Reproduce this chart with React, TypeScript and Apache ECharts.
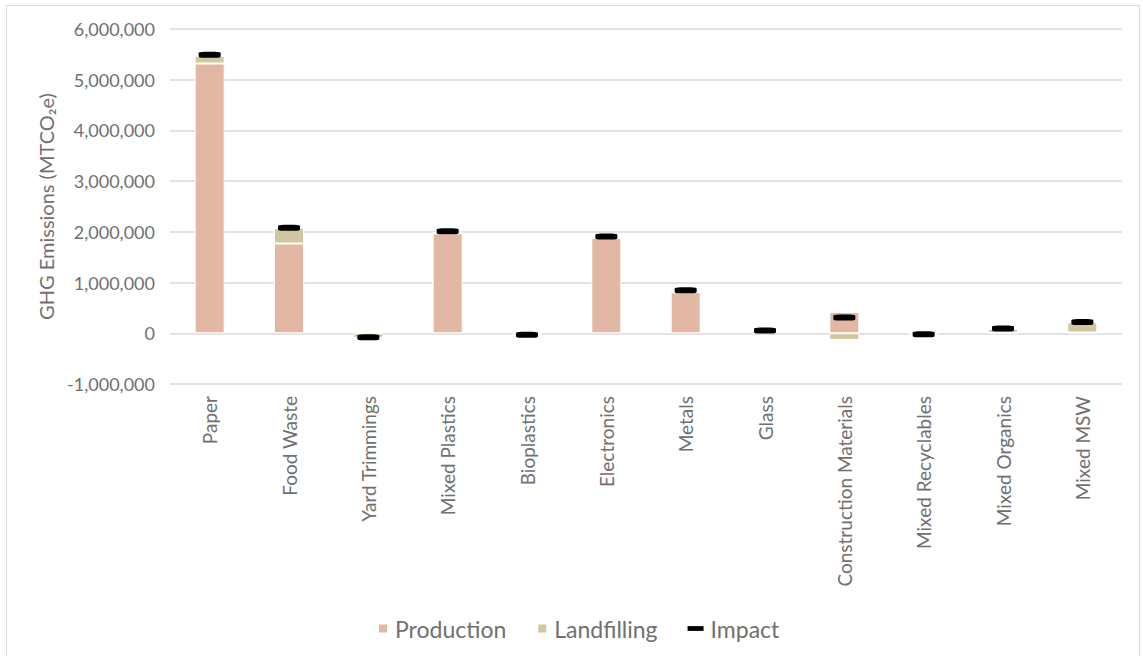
import React, { useEffect, useRef } from "react";
import * as echarts from "echarts";

// Material categories along the x axis
const categories = [
  "Paper",
  "Food Waste",
  "Yard Trimmings",
  "Mixed Plastics",
  "Bioplastics",
  "Electronics",
  "Metals",
  "Glass",
  "Construction Materials",
  "Mixed Recyclables",
  "Mixed Organics",
  "Mixed MSW",
];

// Emissions in MTCO2e
const production = [5320000, 1770000, 10000, 1970000, 10000, 1880000, 810000, 40000, 420000, 5000, 10000, 15000];
const landfilling = [150000, 310000, -90000, 30000, -40000, 20000, 30000, 10000, -130000, -25000, 75000, 200000];
const impact = [5490000, 2080000, -80000, 2010000, -30000, 1910000, 850000, 55000, 310000, -20000, 95000, 225000];

// Value axis ticks
const yMin = -1000000;
const yMax = 6000000;
const yStep = 1000000;

const FONT = "Lato, 'Open Sans', sans-serif";
const TEXT = "#707070";

export default function App() {
  const ref = useRef<HTMLDivElement>(null);

  useEffect(() => {
    if (!ref.current) return;
    const chart = echarts.init(ref.current, undefined, { renderer: "svg" });
    chart.setOption({
      animation: false,
      backgroundColor: "#ffffff",
      textStyle: { fontFamily: FONT },
      graphic: [
        {
          type: "rect",
          shape: { x: 6.5, y: 5.5, width: 1133, height: 665 },
          style: { fill: "none", stroke: "#d9d9d9", lineWidth: 1 },
          silent: true,
          z: -1,
        },
      ],
      legend: {
        left: 372,
        top: 612,
        itemWidth: 16,
        itemHeight: 10,
        itemGap: 30,
        textStyle: { color: TEXT, fontSize: 23, fontFamily: FONT, padding: [0, 0, 0, -1] },
        data: [
          { name: "Production", icon: "path://M0,0h10v10h-10z" },
          { name: "Landfilling", icon: "path://M0,0h10v10h-10z" },
          {
            name: "Impact",
            icon: "path://M0,0h15v4.5h-15z",
            textStyle: { padding: [0, 0, 0, 2] },
          },
        ],
      },
      grid: { left: 170, right: 21, top: 29, bottom: 272, containLabel: false },
      xAxis: {
        type: "category",
        data: categories,
        position: "bottom",
        axisLine: { show: false, onZero: false },
        axisTick: { show: false },
        axisLabel: {
          rotate: 90,
          interval: 0,
          margin: 12,
          color: TEXT,
          fontSize: 19,
          fontFamily: FONT,
        },
      },
      yAxis: {
        type: "value",
        min: yMin,
        max: yMax,
        interval: yStep,
        name: "GHG Emissions (MTCO\u2082e)",
        nameLocation: "middle",
        nameGap: 112,
        nameTextStyle: { color: TEXT, fontSize: 20, fontFamily: FONT },
        axisLine: { show: false },
        axisTick: { show: false },
        splitLine: { lineStyle: { color: "#d9d9d9", width: 1.5 } },
        axisLabel: {
          margin: 15,
          color: TEXT,
          fontSize: 18,
          fontFamily: FONT,
          formatter: (v: number) => v.toLocaleString("en-US"),
        },
      },
      series: [
        {
          name: "Production",
          type: "bar",
          stack: "total",
          barWidth: 30,
          data: production,
          itemStyle: { color: "#E2B7A4", borderColor: "#ffffff", borderWidth: 1 },
        },
        {
          name: "Landfilling",
          type: "bar",
          stack: "total",
          barWidth: 30,
          data: landfilling,
          itemStyle: { color: "#D0C79E", borderColor: "#ffffff", borderWidth: 1 },
        },
        {
          name: "Impact",
          type: "scatter",
          data: impact,
          symbol: "roundRect",
          symbolSize: [22, 6],
          itemStyle: { color: "#000000", opacity: 1 },
          z: 5,
        },
      ],
    });
    return () => chart.dispose();
  }, []);

  return (
    <div
      ref={ref}
      style={{ position: "absolute", left: 0, top: 0, width: 1143, height: 656 }}
    />
  );
}
